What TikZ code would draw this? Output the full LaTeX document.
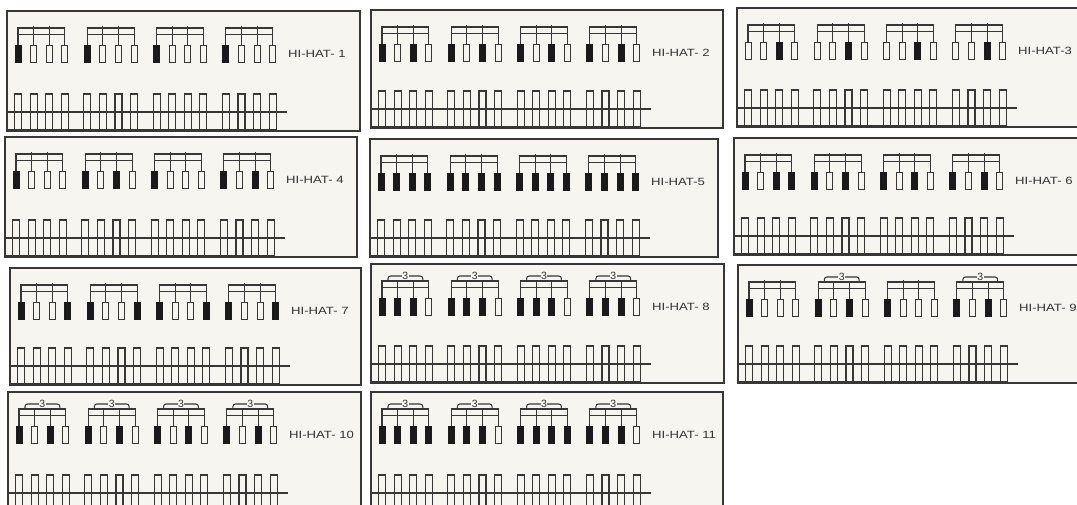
\documentclass[tikz,border=0pt]{standalone}
\usepackage{fontspec}
\setmainfont{Liberation Sans}
\newfontfamily\lblfont[FakeStretch=1.25]{Liberation Sans}
\definecolor{pfill}{RGB}{247,245,240}
\definecolor{lc}{RGB}{55,55,55}
\definecolor{nb}{RGB}{26,26,28}
\definecolor{tc}{RGB}{50,50,50}
\tikzset{
  frame/.style={draw=lc, fill=pfill, line width=1.3pt},
  ln/.style={draw=lc, line width=1.05pt},
  blk/.style={fill=nb},
  wht/.style={draw=lc, fill=pfill, line width=0.95pt},
  lbl/.style={anchor=west, font=\lblfont\fontsize{10.5}{12}\selectfont, text=tc, inner sep=0pt},
  trip/.style={font=\fontsize{10.5}{12}\selectfont, text=tc, fill=pfill, inner sep=0.4pt},
}
% #1 name, #2 x, #3 y, #4 width, #5 height, #6 notes, #7 triplets, #8 label
\newcommand\hhpanel[8]{%
\begin{scope}[shift={(#2,#3)}]
  \path[frame] (0,0) rectangle (#4,#5);
  \foreach \v [count=\i from 0] in {#6} {
    \pgfmathsetmacro\nx{7.5+floor(\i/4)*69.3+mod(\i,4)*15.6}
    \ifnum\v=1 \fill[blk] (\nx,34) rectangle ++(7,17.5);
    \else \path[wht] (\nx+0.5,34.5) rectangle ++(6,16.5); \fi
    \draw[ln] (\nx,#5-1.5) -- (\nx,#5-37) -- (\nx+7,#5-37) -- (\nx+7,#5-1.5);
  }
  \draw[ln] (0,#5-1.5) -- (269.5,#5-1.5);
  \draw[ln] (0,#5-19) -- (280,#5-19);
  \foreach \t [count=\g from 0] in {#7} {
    \pgfmathsetmacro\ca{7.5+\g*69.3+3.5}
    \pgfmathsetmacro\cb{\ca+46.8}
    \ifnum\t=1
      \pgfmathsetmacro\st{17}
      \draw[ln, rounded corners=2.5pt] (\ca+6,17) -- (\ca+6,12) -- (\cb-6,12) -- (\cb-6,17);
      \node[trip] at ({(\ca+\cb)/2},11.5) {3};
    \else
      \pgfmathsetmacro\st{15}
    \fi
    \draw[ln] (\ca,34) -- (\ca,17) -- (\cb,17) -- (\cb,34);
    \draw[ln] (\ca,23.5) -- (\cb,23.5);
    \draw[ln] (\ca+15.6,\st) -- (\ca+15.6,34);
    \draw[ln] (\ca+31.2,\st) -- (\ca+31.2,34);
  }
  \node[lbl] (#1) at (281,42.5) {#8};
\end{scope}}
\begin{document}
\begin{tikzpicture}[x=1pt,y=-1pt]
  \useasboundingbox (0,0) rectangle (1077,504);
  \clip (0,0) rectangle (1077,504);
  \fill[white] (0,0) rectangle (1077,504);
  \hhpanel{p1}{7}{11}{353}{120}{1,0,0,0,1,0,0,0,1,0,0,0,1,0,0,0}{0,0,0,0}{HI-HAT- 1}
  \hhpanel{p2}{371}{10}{352}{118}{1,0,1,0,1,0,1,0,1,0,1,0,1,0,1,0}{0,0,0,0}{HI-HAT- 2}
  \hhpanel{p3}{737}{8}{360}{119}{0,0,1,0,0,0,1,0,0,0,1,0,0,0,1,0}{0,0,0,0}{HI-HAT-3}
  \hhpanel{p4}{5}{137}{352}{120}{1,0,0,0,1,0,1,0,1,0,0,0,1,0,1,0}{0,0,0,0}{HI-HAT- 4}
  \hhpanel{p5}{370}{139}{348}{118}{1,1,1,1,1,1,1,1,1,1,1,1,1,1,1,1}{0,0,0,0}{HI-HAT-5}
  \hhpanel{p6}{734}{138}{360}{117}{1,0,1,1,1,0,1,0,1,0,1,0,1,0,1,0}{0,0,0,0}{HI-HAT- 6}
  \hhpanel{p7}{10}{268}{351}{117}{1,0,0,1,1,0,0,1,1,0,0,1,1,0,0,1}{0,0,0,0}{HI-HAT- 7}
  \hhpanel{p8}{371}{264}{353}{119}{1,1,1,0,1,1,1,0,1,1,1,0,1,1,1,0}{1,1,1,1}{HI-HAT- 8}
  \hhpanel{p9}{738}{265}{360}{118}{1,0,0,0,1,0,1,0,1,0,0,0,1,0,1,0}{0,1,0,1}{HI-HAT- 9}
  \hhpanel{p10}{8}{392}{353}{120}{1,0,1,0,1,0,1,0,1,0,1,0,1,0,1,0}{1,1,1,1}{HI-HAT- 10}
  \hhpanel{p11}{371}{392}{352}{120}{1,1,1,1,1,1,1,0,1,1,1,1,1,1,1,0}{1,1,1,1}{HI-HAT- 11}
\end{tikzpicture}
\end{document}
